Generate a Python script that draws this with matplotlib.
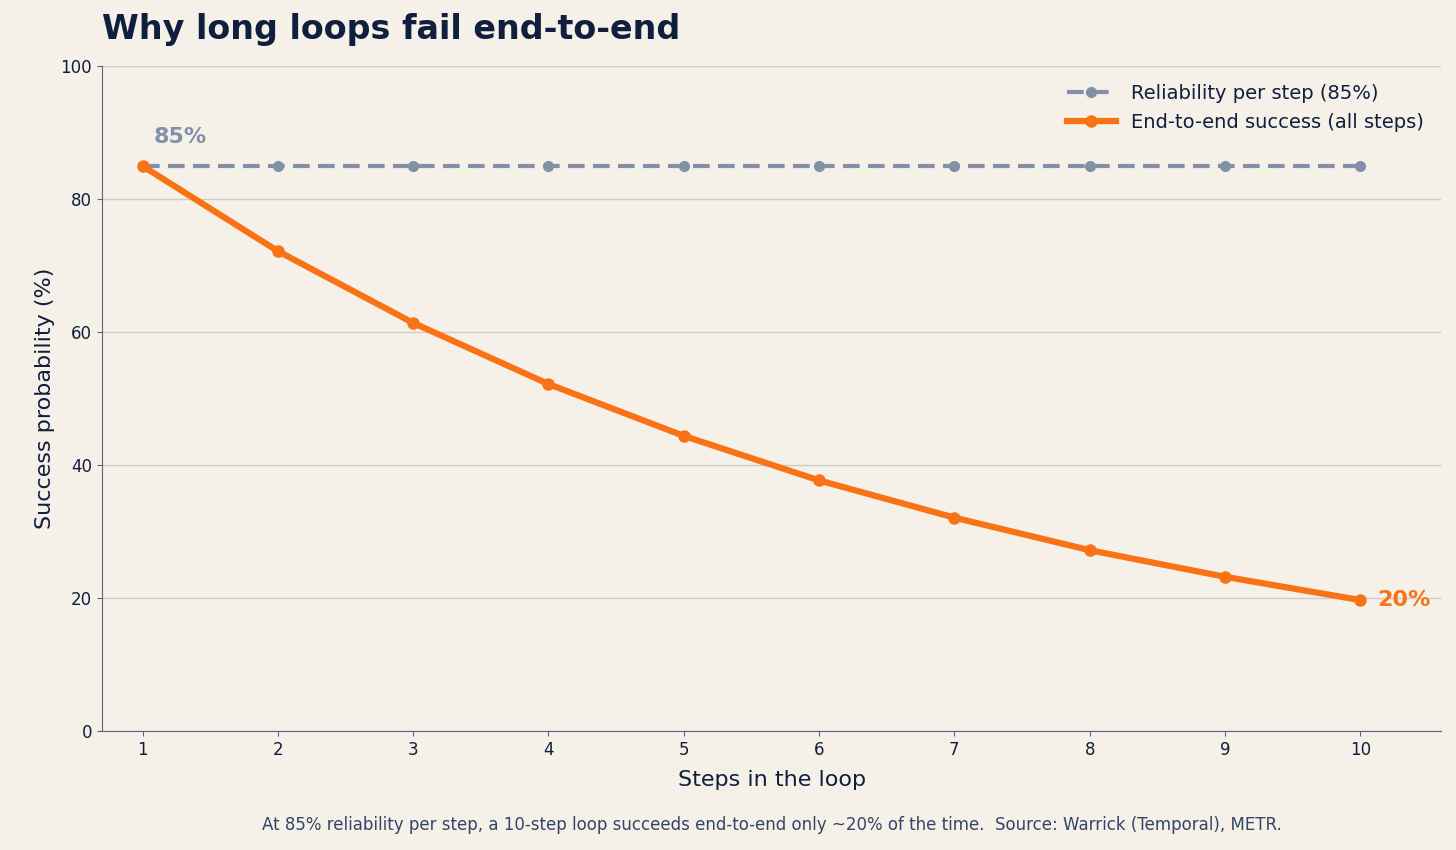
import matplotlib.pyplot as plt

# Data
steps = [1, 2, 3, 4, 5, 6, 7, 8, 9, 10]
per_step = [85, 85, 85, 85, 85, 85, 85, 85, 85, 85]
end_to_end = [85, 72.2, 61.4, 52.2, 44.4, 37.7, 32.1, 27.2, 23.2, 19.7]

BG = "#f5f0e8"
NAVY = "#0f1f3d"
GREY = "#8290a8"
ORANGE = "#f97316"

fig = plt.figure(figsize=(14.56, 8.5), dpi=100, facecolor=BG)
ax = fig.add_axes([0.070, 0.140, 0.920, 0.782], facecolor=BG)

ax.plot(steps, per_step, color=GREY, lw=3, ls=(0, (4, 2)), marker="o", ms=7,
        label="Reliability per step (85%)", zorder=3)
ax.plot(steps, end_to_end, color=ORANGE, lw=4.5, marker="o", ms=8,
        label="End-to-end success (all steps)", zorder=4)

ax.set_xlim(0.7, 10.6)
ax.set_ylim(0, 100)
ax.set_xticks(steps)
ax.set_yticks([0, 20, 40, 60, 80, 100])
ax.grid(axis="y", color="#d0cdc8", lw=1)
ax.set_axisbelow(True)
for s in ["top", "right"]:
    ax.spines[s].set_visible(False)
for s in ["left", "bottom"]:
    ax.spines[s].set_color("#5a6480")
ax.tick_params(colors="#5a6480", labelcolor=NAVY, labelsize=12)

ax.set_xlabel("Steps in the loop", fontsize=16, color=NAVY, labelpad=8)
ax.set_ylabel("Success probability (%)", fontsize=16, color=NAVY)

ax.annotate("85%", (steps[0], per_step[0]), xytext=(8, 14), textcoords="offset points",
            color=GREY, fontsize=16, fontweight="bold", va="bottom")
ax.annotate(f"{round(end_to_end[-1])}%", (steps[-1], end_to_end[-1]), xytext=(12, 0),
            textcoords="offset points", color=ORANGE, fontsize=16, fontweight="bold",
            va="center")

leg = ax.legend(loc="upper right", frameon=False, fontsize=14, handlelength=2.5,
                bbox_to_anchor=(1.0, 1.0))
for t in leg.get_texts():
    t.set_color(NAVY)

fig.text(0.070, 0.965, "Why long loops fail end-to-end", fontsize=24,
         fontweight="bold", color=NAVY, va="center")
fig.text(0.530, 0.030, "At 85% reliability per step, a 10-step loop succeeds end-to-end only ~20% of the time.  Source: Warrick (Temporal), METR.",
         fontsize=12, color="#334566", ha="center", va="center")

fig.savefig("out.png", dpi=100, facecolor=BG)
